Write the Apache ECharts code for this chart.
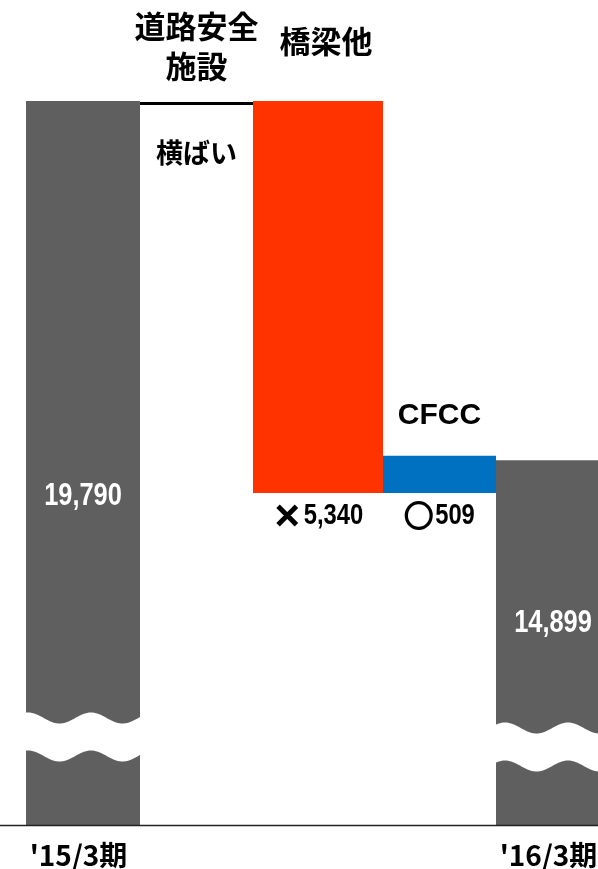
<!DOCTYPE html>
<html>
<head>
<meta charset="utf-8">
<script src="https://cdn.jsdelivr.net/npm/echarts@6/dist/echarts.min.js"></script>
<style>
  html, body { margin: 0; padding: 0; background: #fff; }
  #chart { width: 598px; height: 869px; }
</style>
</head>
<body>
<div id="chart"></div>
<script>
// Sales bridge from '15/3期 to '16/3期 (value axis is broken near the base)
const categories = ["'15/3期", '道路安全\n施設', '橋梁他', 'CFCC', "'16/3期"];
const totals = [19790, null, null, null, 14899];
const changes = [null, 0, -5340, 509, null];
const axisMin = 9930;   // lower end of the broken axis
const axisMax = 19790;

const JP = "'Noto Sans CJK JP', sans-serif";
const LATIN = "'Liberation Sans', Arial, sans-serif";
const NARROW = 0.82;    // horizontal squeeze for the figures

const COLORS = { total: '#5f5f5f', down: '#ff3300', up: '#0070c0', flat: '#000000' };
const BAR_WIDTH = { total: 114, down: 130 };          // fixed-width marks, px
// wavy break drawn across each total bar, and where its value label sits
const TOTAL_DECOR = {
  0: { breakLift: 107, phase: 2, labelLift: 329 },
  4: { breakLift: 97, phase: 9, labelLift: 202 }
};

const kinds = categories.map((_, i) =>
  totals[i] != null ? 'total' : changes[i] === 0 ? 'flat' : changes[i] < 0 ? 'down' : 'up');

let running = 0;
const rows = categories.map((_, i) => {
  if (totals[i] != null) { running = totals[i]; return [i, axisMin, totals[i]]; }
  const from = running;
  running += changes[i];
  return [i, Math.min(from, running), Math.max(from, running)];
});

const fmt = v => v.toLocaleString('en-US');
const markOf = i => changes[i] < 0 ? '×' : '○';

const measureCtx = document.createElement('canvas').getContext('2d');
function textWidth(text, font) {
  measureCtx.font = font;
  return measureCtx.measureText(text).width;
}

// horizontal extent of a mark: fixed-width bars are centred on their band,
// the others fill the gap between their neighbours
function spanOf(api, i) {
  const cx = api.coord([i, axisMin])[0];
  const k = kinds[i];
  if (BAR_WIDTH[k]) return [cx - BAR_WIDTH[k] / 2, cx + BAR_WIDTH[k] / 2];
  return [spanOf(api, i - 1)[1], spanOf(api, i + 1)[0]];
}

function wavePoints(x0, x1, yc, phase, thick) {
  const A = 5.5, P = 63, top = [], bottom = [];
  for (let x = x0; x <= x1 + 0.01; x += 1) {
    const y = yc - A * Math.cos(2 * Math.PI * (x - (x0 + phase)) / P);
    top.push([x, y]);
    bottom.push([x, y + thick]);
  }
  return top.concat(bottom.reverse());
}

function figureText(x, y, text, size, fill, align) {
  return { type: 'text', x, y, scaleX: NARROW,
    style: { text, fill, fontFamily: LATIN, fontSize: size, fontWeight: 'bold',
      align: align || 'center', verticalAlign: 'middle' } };
}

function renderItem(params, api) {
  const i = api.value(0);
  const k = kinds[i];
  const lowY = api.coord([i, api.value(1)])[1];
  const highY = api.coord([i, api.value(2)])[1];
  const baseY = api.coord([i, axisMin])[1];
  const [x0, x1] = spanOf(api, i);
  const mid = (x0 + x1) / 2;
  const children = [];

  if (k === 'flat') {
    children.push({ type: 'rect', shape: { x: x0, y: highY + 1, width: x1 - x0, height: 3 },
      style: { fill: COLORS.flat } });
  } else {
    children.push({ type: 'rect', shape: { x: x0, y: highY, width: x1 - x0, height: lowY - highY },
      style: { fill: COLORS[k] } });
  }

  if (k === 'total') {
    const d = TOTAL_DECOR[i];
    children.push({ type: 'polygon',
      shape: { points: wavePoints(x0, x1, baseY - d.breakLift, d.phase, 38) },
      style: { fill: '#ffffff' } });
    children.push(figureText(mid, baseY - d.labelLift, fmt(totals[i]), 31, '#ffffff'));
  } else if (k === 'flat') {
    children.push({ type: 'text', x: mid, y: highY - 15,
      style: { text: categories[i], fill: '#000', fontFamily: JP, fontSize: 31, fontWeight: 'bold',
        lineHeight: 40, align: 'center', verticalAlign: 'bottom' } });
    children.push({ type: 'text', x: mid, y: highY + 52,
      style: { text: '横ばい', fill: '#000', fontFamily: JP, fontSize: 27, fontWeight: 'bold',
        align: 'center', verticalAlign: 'middle' } });
  } else {
    const isUp = k === 'up';
    children.push({ type: 'text', x: mid + (isUp ? 0 : 8), y: highY - (isUp ? 40 : 60),
      style: { text: categories[i], fill: '#000',
        fontFamily: isUp ? LATIN : JP, fontSize: isUp ? 30 : 31, fontWeight: 'bold',
        align: 'center', verticalAlign: 'middle' } });
    // change label: ×/○ sign followed by the amount
    const mark = markOf(i);
    const num = fmt(Math.abs(changes[i]));
    const markW = textWidth(mark, 'bold 29px ' + JP) + 2;
    const numW = textWidth(num, 'bold 29px ' + LATIN) * NARROW;
    const left = mid - (markW + numW) / 2;
    const y = lowY + 23;
    children.push({ type: 'text', x: left, y,
      style: { text: mark, fill: '#000', stroke: '#000', lineWidth: 2,
        fontFamily: JP, fontSize: 29, fontWeight: 'bold',
        align: 'left', verticalAlign: 'middle' } });
    children.push(figureText(left + markW, y, num, 29, '#000', 'left'));
  }

  if (i === 0) {
    // base line across the full width
    children.push({ type: 'line', z2: 10,
      shape: { x1: 0, y1: baseY + 0.5, x2: api.getWidth(), y2: baseY + 0.5 },
      style: { stroke: '#222', lineWidth: 1.6 } });
  }
  return { type: 'group', children };
}

const chart = echarts.init(document.getElementById('chart'));
chart.setOption({
  animation: false,
  backgroundColor: '#ffffff',
  grid: { left: 24.25, width: 587.5, top: 101, bottom: 44, outerBoundsMode: 'none' },
  xAxis: {
    type: 'category',
    data: categories,
    axisLine: { show: false },
    axisTick: { show: false },
    axisLabel: {
      interval: 0,
      margin: 16,
      padding: [0, 9, 0, 0],
      color: '#000',
      fontFamily: JP,
      fontSize: 28,
      fontWeight: 'bold',
      formatter: (v, i) => kinds[i] === 'total' ? v : ''
    }
  },
  yAxis: { type: 'value', min: axisMin, max: axisMax, show: false, splitLine: { show: false } },
  series: [{
    type: 'custom',
    renderItem,
    encode: { x: 0, y: [1, 2] },
    data: rows
  }]
});
</script>
</body>
</html>
